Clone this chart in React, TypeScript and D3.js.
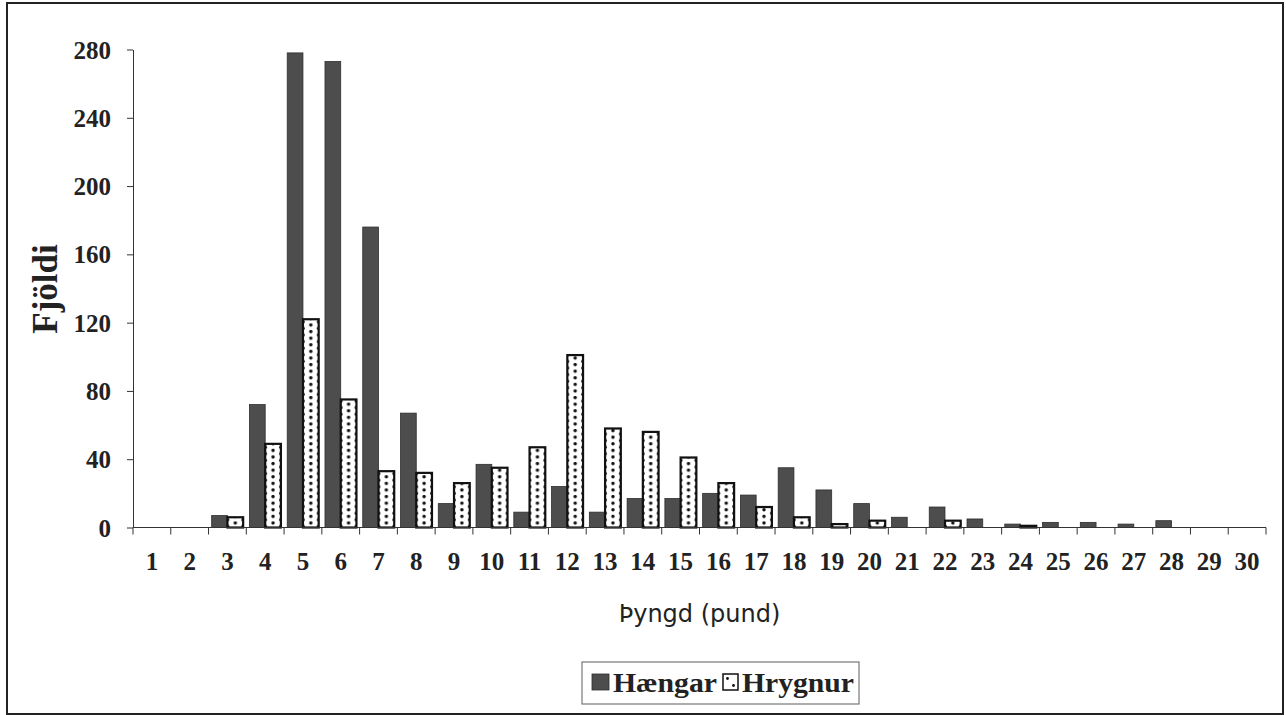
import React, { useEffect, useRef } from 'react';
import * as d3 from 'd3';

const weights: string[] = Array.from({ length: 30 }, (_, i) => String(i + 1));
const haengar = [0, 0, 7, 72, 278, 273, 176, 67, 14, 37, 9, 24, 9, 17, 17, 20, 19, 35, 22, 14, 6, 12, 5, 2, 3, 3, 2, 4, 0, 0];
const hrygnur = [0, 0, 6, 49, 122, 75, 33, 32, 26, 35, 47, 101, 58, 56, 41, 26, 12, 6, 2, 4, 0, 4, 0, 1, 0, 0, 0, 0, 0, 0];
const yTicks = [0, 40, 80, 120, 160, 200, 240, 280];
const seriesNames = ['Hængar', 'Hrygnur'];

const serif = '"Liberation Serif", "Times New Roman", serif';
const dark = '#4d4d4d';

const App: React.FC = () => {
  const svgRef = useRef<SVGSVGElement>(null);

  useEffect(() => {
    const svg = d3.select(svgRef.current);
    svg.selectAll('*').remove();

    const left = 133, right = 1266, top = 49.5, bottom = 527.5;

    const x = d3.scaleBand<string>().domain(weights).range([left, right]).padding(0);
    const inner = d3.scaleBand<string>().domain(seriesNames).range([0, x.bandwidth()]).paddingInner(0).paddingOuter(0.2);
    const y = d3.scaleLinear().domain([0, 280]).range([bottom, top]);
    const bw = inner.bandwidth();

    // outer frame
    svg.append('rect')
      .attr('x', 7).attr('y', 3).attr('width', 1276).attr('height', 711)
      .attr('fill', 'white').attr('stroke', '#222').attr('stroke-width', 2);

    const defs = svg.append('defs');
    const dotPattern = (id: string, x0: number, w: number) => {
      const p = defs.append('pattern')
        .attr('id', id).attr('patternUnits', 'userSpaceOnUse')
        .attr('x', x0).attr('y', 0).attr('width', w).attr('height', 6.6);
      p.append('rect').attr('width', w).attr('height', 6.6).attr('fill', 'white');
      p.append('circle').attr('cx', w / 2).attr('cy', 1.65).attr('r', 1.7).attr('fill', '#111');
      p.append('circle').attr('cx', 0).attr('cy', 4.95).attr('r', 1.8).attr('fill', '#111');
      p.append('circle').attr('cx', w).attr('cy', 4.95).attr('r', 1.8).attr('fill', '#111');
    };

    // y axis
    const yAxis = svg.append('g')
      .attr('transform', `translate(${left},0)`)
      .call(d3.axisLeft(y).tickValues(yTicks).tickSize(6).tickSizeOuter(0).tickPadding(16));
    yAxis.select('.domain').attr('stroke', '#333').attr('stroke-width', 1);
    yAxis.selectAll('.tick line').attr('stroke', '#333');
    yAxis.selectAll('.tick text')
      .attr('font-family', serif).attr('font-weight', 'bold').attr('font-size', 25)
      .attr('fill', '#222').attr('dy', '0.34em');

    // bars
    weights.forEach((w, i) => {
      const gx = x(w)!;
      const hv = haengar[i];
      const rv = hrygnur[i];
      if (hv > 0) {
        svg.append('rect')
          .attr('x', gx + inner('Hængar')!).attr('y', y(hv))
          .attr('width', bw).attr('height', y(0) - y(hv))
          .attr('fill', dark).attr('stroke', '#2e2e2e').attr('stroke-width', 0.8);
      }
      if (rv > 0) {
        const bx = gx + inner('Hrygnur')!;
        dotPattern(`dots-${i}`, bx, bw);
        svg.append('rect')
          .attr('x', bx).attr('y', y(rv))
          .attr('width', bw).attr('height', y(0) - y(rv))
          .attr('fill', `url(#dots-${i})`).attr('stroke', '#111').attr('stroke-width', 2.2);
      }
    });

    // x axis
    svg.append('line')
      .attr('x1', left).attr('x2', right).attr('y1', bottom).attr('y2', bottom)
      .attr('stroke', '#333').attr('stroke-width', 1.2);
    const boundaries = weights.map(w => x(w)!).concat([right]);
    svg.selectAll('line.xtick').data(boundaries).enter().append('line')
      .attr('class', 'xtick')
      .attr('x1', d => d).attr('x2', d => d).attr('y1', bottom).attr('y2', bottom + 7)
      .attr('stroke', '#333');
    svg.selectAll('text.xlab').data(weights).enter().append('text')
      .attr('class', 'xlab')
      .attr('x', d => x(d)! + x.bandwidth() / 2).attr('y', 570)
      .attr('text-anchor', 'middle')
      .attr('font-family', serif).attr('font-weight', 'bold').attr('font-size', 25).attr('fill', '#222')
      .text(d => d);

    // axis titles
    svg.append('text')
      .attr('transform', 'translate(57,289) rotate(-90)')
      .attr('text-anchor', 'middle')
      .attr('font-family', serif).attr('font-weight', 'bold').attr('font-size', 35).attr('fill', '#222')
      .text('Fjöldi');
    svg.append('text')
      .attr('x', (left + right) / 2).attr('y', 622)
      .attr('text-anchor', 'middle')
      .attr('font-family', '"DejaVu Sans", Verdana, sans-serif').attr('font-size', 24).attr('fill', '#222')
      .text('Þyngd (pund)');

    // legend
    const lg = svg.append('g');
    lg.append('rect')
      .attr('x', 582).attr('y', 662).attr('width', 277).attr('height', 42)
      .attr('fill', 'white').attr('stroke', '#777').attr('stroke-width', 1.2);
    lg.append('rect').attr('x', 592).attr('y', 674).attr('width', 17).attr('height', 16)
      .attr('fill', dark).attr('stroke', '#2e2e2e').attr('stroke-width', 0.8);
    lg.append('text').attr('x', 613).attr('y', 692)
      .attr('font-family', serif).attr('font-weight', 'bold').attr('font-size', 27).attr('fill', '#222')
      .attr('textLength', 104).attr('lengthAdjust', 'spacingAndGlyphs')
      .text(seriesNames[0]);
    lg.append('rect').attr('x', 723).attr('y', 674).attr('width', 15).attr('height', 16)
      .attr('fill', 'white').attr('stroke', '#111').attr('stroke-width', 1.5);
    lg.append('circle').attr('cx', 727.5).attr('cy', 678.5).attr('r', 1.4).attr('fill', '#111');
    lg.append('circle').attr('cx', 733.5).attr('cy', 685.5).attr('r', 1.4).attr('fill', '#111');
    lg.append('text').attr('x', 742).attr('y', 692)
      .attr('font-family', serif).attr('font-weight', 'bold').attr('font-size', 27).attr('fill', '#222')
      .attr('textLength', 112).attr('lengthAdjust', 'spacingAndGlyphs')
      .text(seriesNames[1]);
  }, []);

  return (
    <svg ref={svgRef} width={1286} height={715}
      style={{ position: 'absolute', left: 0, top: 0, background: 'white' }} />
  );
};

export default App;
